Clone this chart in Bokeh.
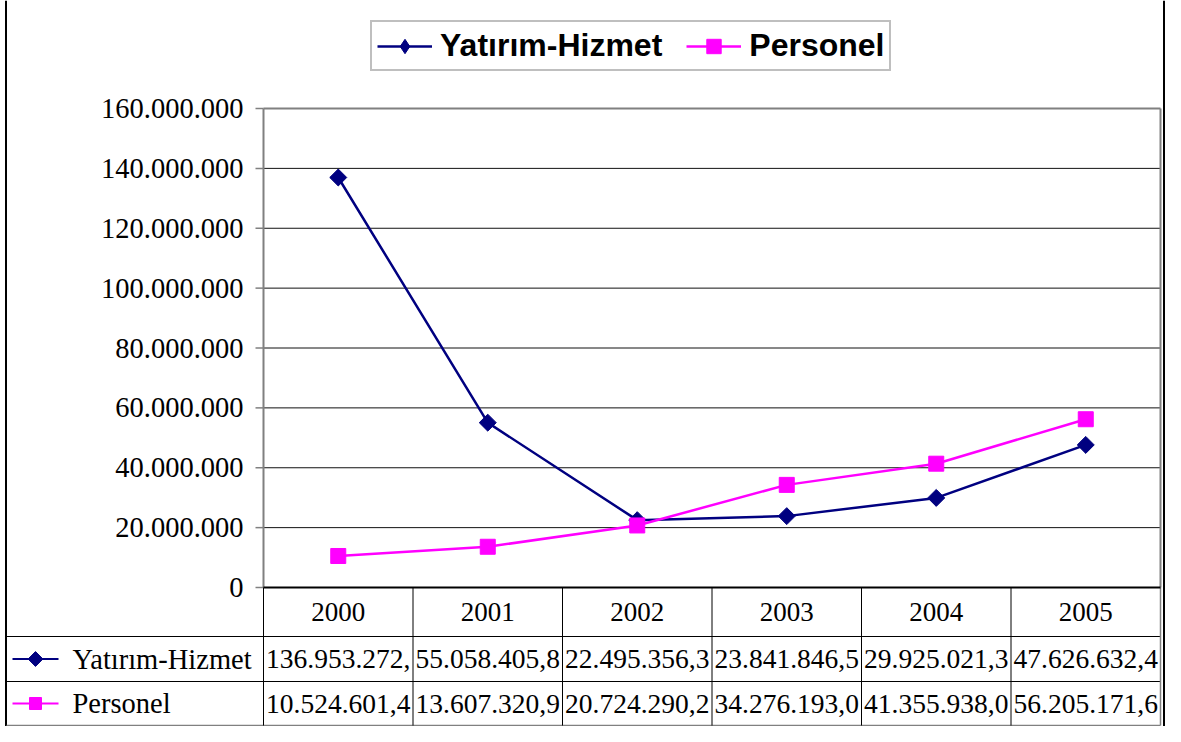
import numpy as np
from bokeh.plotting import figure
from bokeh.models import Range1d, Legend, LegendItem, ColumnDataSource
from bokeh.core.properties import value
from bokeh.embed import file_html
from bokeh.resources import INLINE

# ---------------- data ----------------
years = ["2000", "2001", "2002", "2003", "2004", "2005"]
yatirim = [136953272.0, 55058405.8, 22495356.3, 23841846.5, 29925021.3, 47626632.4]
personel = [10524601.4, 13607320.9, 20724290.2, 34276193.0, 41355938.0, 56205171.6]
yatirim_labels = ["136.953.272,", "55.058.405,8", "22.495.356,3", "23.841.846,5", "29.925.021,3", "47.626.632,4"]
personel_labels = ["10.524.601,4", "13.607.320,9", "20.724.290,2", "34.276.193,0", "41.355.938,0", "56.205.171,6"]
y_ticks = [0, 20000000, 40000000, 60000000, 80000000, 100000000, 120000000, 140000000, 160000000]
y_tick_labels = ["0", "20.000.000", "40.000.000", "60.000.000", "80.000.000",
                 "100.000.000", "120.000.000", "140.000.000", "160.000.000"]
series_names = ["Yatırım-Hizmet", "Personel"]

NAVY = "#000080"
MAG = "#FF00FF"
SERIF = value("Liberation Serif")

# ---------------- layout (pixels) ----------------
FW, FH = 1165, 726
X0 = 263          # left edge of category area
W = 149.5         # width of a category column
Y0 = 587          # pixel of value 0
Y160 = 108        # pixel of value 160M
U = 160e6 / (Y0 - Y160)

def xpx(p):
    return (p - X0) / W

def ypx(p):
    return (Y0 - p) * U

ncat = len(years)
xs = [i + 0.5 for i in range(ncat)]

p = figure(width=FW, height=FH, output_backend="svg", toolbar_location=None,
           x_range=Range1d(xpx(0), xpx(FW)), y_range=Range1d(ypx(FH), ypx(0)),
           min_border=0)
p.axis.visible = False
p.grid.visible = False
p.outline_line_color = None
p.background_fill_color = "white"
p.border_fill_color = "white"

# outer border (left/right)
p.segment(x0=[xpx(5.5), xpx(1163.5)], y0=[ypx(0), ypx(0)], x1=[xpx(5.5), xpx(1163.5)], y1=[ypx(FH), ypx(FH)],
          line_color="black", line_width=2)

# gridlines
grid_vals = y_ticks[1:-1]
p.segment(x0=[0] * len(grid_vals), y0=grid_vals, x1=[ncat] * len(grid_vals), y1=grid_vals,
          line_color="#111111", line_width=1)
# plot area border (top/right/left)
p.segment(x0=[0, ncat, 0], y0=[y_ticks[-1], y_ticks[-1], 0], x1=[ncat, ncat, 0], y1=[y_ticks[-1], 0, y_ticks[-1]],
          line_color="#808080", line_width=2)
# tick marks
p.segment(x0=[xpx(X0 - 8)] * len(y_ticks), y0=y_ticks, x1=[0] * len(y_ticks), y1=y_ticks,
          line_color="#808080", line_width=1.5)
# tick labels
p.text(x=[xpx(X0 - 20)] * len(y_ticks), y=y_ticks, text=y_tick_labels,
       text_align="right", text_baseline="middle", text_font=SERIF,
       text_font_size="28.5px", text_color="black")

# ---------------- table ----------------
row_bounds_px = [Y0, 636, 681, 725]
rb = [ypx(v) for v in row_bounds_px]
# horizontal table lines
p.segment(x0=[xpx(6), xpx(6)], y0=[rb[1], rb[2]], x1=[ncat, ncat], y1=[rb[1], rb[2]],
          line_color="black", line_width=1)
p.segment(x0=[xpx(6)], y0=[rb[3]], x1=[ncat], y1=[rb[3]], line_color="#808080", line_width=1.5)
# vertical column lines
p.segment(x0=list(range(ncat)), y0=[0] * ncat, x1=list(range(ncat)), y1=[rb[3]] * ncat,
          line_color="black", line_width=1)
p.segment(x0=[ncat], y0=[0], x1=[ncat], y1=[rb[3]], line_color="#808080", line_width=1.5)
# zero / category axis line
p.segment(x0=[0], y0=[0], x1=[ncat], y1=[0], line_color="black", line_width=2)

# header labels
p.text(x=xs, y=[(rb[0] + rb[1]) / 2] * ncat, text=years, text_align="center",
       text_baseline="middle", text_font=SERIF, text_font_size="27px", text_color="black")
row1_y = (rb[1] + rb[2]) / 2
row2_y = (rb[2] + rb[3]) / 2
p.text(x=xs, y=[row1_y] * ncat, text=yatirim_labels, text_align="center",
       text_baseline="middle", text_font=SERIF, text_font_size="27.5px", text_color="black")
p.text(x=xs, y=[row2_y] * ncat, text=personel_labels, text_align="center",
       text_baseline="middle", text_font=SERIF, text_font_size="27.5px", text_color="black")
# row labels
p.text(x=[xpx(72), xpx(72)], y=[row1_y, row2_y], text=series_names, text_align="left",
       text_baseline="middle", text_font=SERIF, text_font_size="28.5px", text_color="black")
# row keys
p.segment(x0=[xpx(12)], y0=[row1_y], x1=[xpx(58)], y1=[row1_y], line_color=NAVY, line_width=2)
p.segment(x0=[xpx(12)], y0=[row2_y], x1=[xpx(58)], y1=[row2_y], line_color=MAG, line_width=2)
p.scatter(x=[xpx(35)], y=[row1_y], marker="square", size=10.5, angle=np.pi / 4,
          fill_color=NAVY, line_color=NAVY)
p.scatter(x=[xpx(35)], y=[row2_y], marker="square", size=12, fill_color=MAG, line_color=MAG)

# ---------------- series ----------------
src = ColumnDataSource(dict(x=xs, yat=yatirim, per=personel))
l1 = p.line("x", "yat", source=src, line_color=NAVY, line_width=2.5)
s1 = p.scatter("x", "yat", source=src, marker="square", size=12, angle=np.pi / 4,
               fill_color=NAVY, line_color=NAVY)
l2 = p.line("x", "per", source=src, line_color=MAG, line_width=2.5)
s2 = p.scatter("x", "per", source=src, marker="square", size=15, fill_color=MAG, line_color=MAG)

# legend-only marker renderers (no visible data)
empty = ColumnDataSource(dict(x=[np.nan], y=[np.nan]))
k1 = p.scatter("x", "y", source=empty, marker="diamond", fill_color=NAVY, line_color=NAVY)
k2 = p.scatter("x", "y", source=empty, marker="square", fill_color=MAG, line_color=MAG)

legend = Legend(items=[LegendItem(label=series_names[0], renderers=[l1, k1]),
                       LegendItem(label=series_names[1], renderers=[l2, k2])],
                orientation="horizontal", location=(370, FH - 71),
                label_text_font="Liberation Sans", label_text_font_style="bold",
                label_text_font_size="32px", label_text_color="black",
                glyph_width=55, glyph_height=36, label_height=36, label_standoff=8,
                padding=5, spacing=24, margin=0,
                border_line_color="#808080", border_line_width=2,
                background_fill_color="white", background_fill_alpha=1.0)
p.add_layout(legend)

open("out.html", "w").write(file_html(p, INLINE))
